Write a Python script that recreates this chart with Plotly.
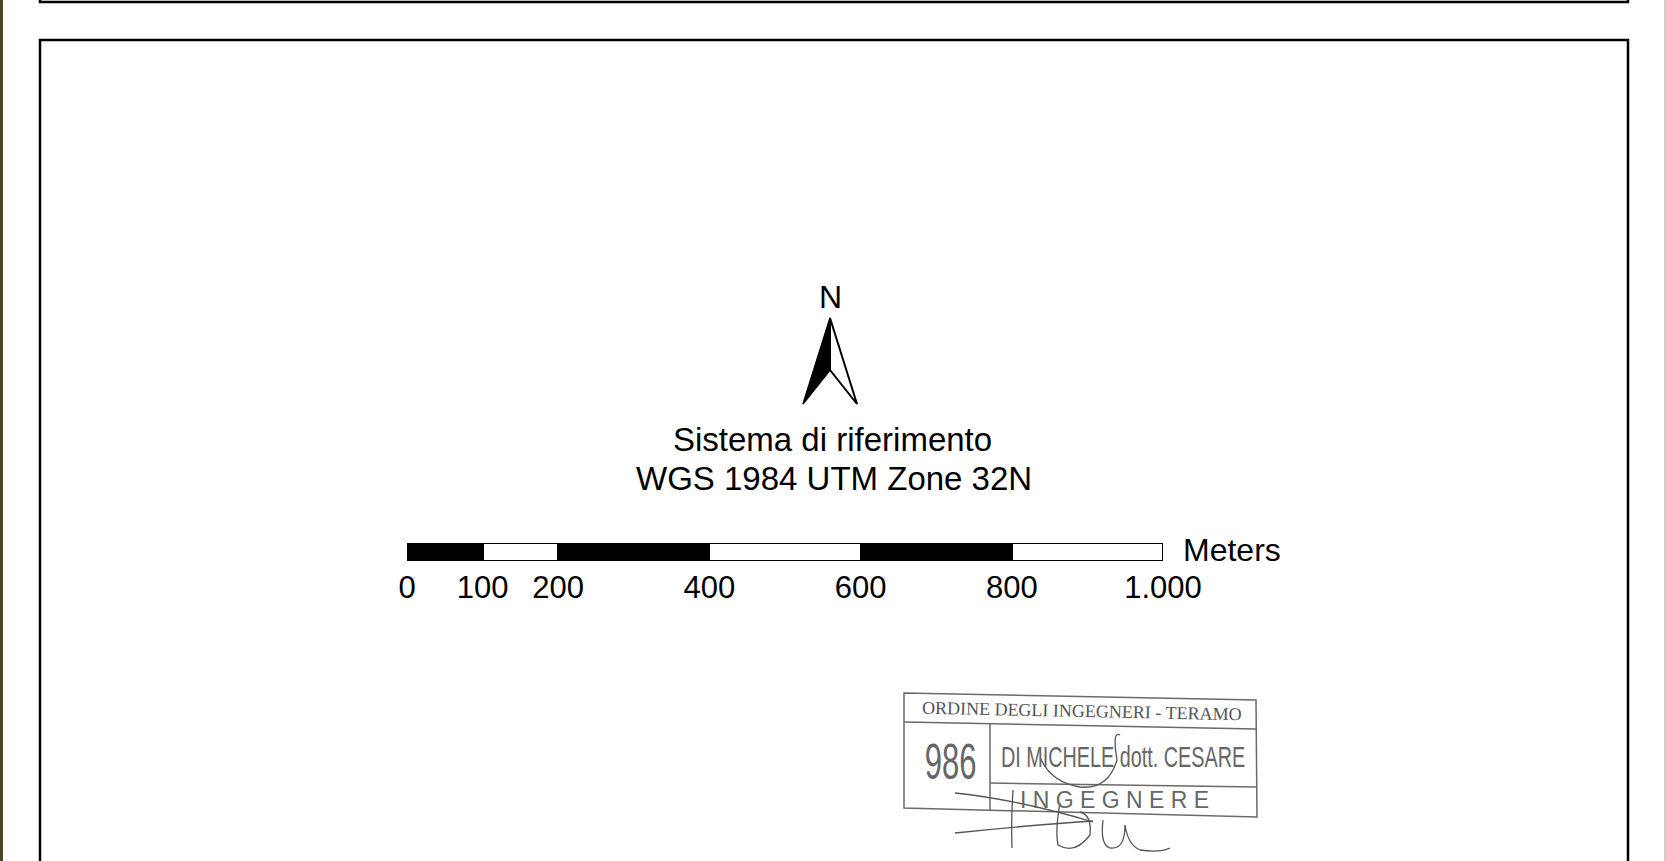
import plotly.graph_objects as go

# ---- data ----
scale_ticks = [0, 100, 200, 400, 600, 800, 1000]
scale_labels = ["0", "100", "200", "400", "600", "800", "1.000"]
seg_start = [0, 100, 200, 400, 600, 800]
seg_length = [100, 100, 200, 200, 200, 200]
seg_colors = ["black", "white", "black", "white", "black", "white"]
scale_unit = "Meters"
north_label = "N"
crs_lines = ["Sistema di riferimento", "WGS 1984 UTM Zone 32N"]
stamp_header = "ORDINE DEGLI INGEGNERI - TERAMO"
stamp_number = "986"
stamp_name = "DI MICHELE dott. CESARE"
stamp_title = "I N G E G N E R E"

W, H = 1666, 861
FONT = "Liberation Sans, Arial, sans-serif"

fig = go.Figure()

# scale bar as horizontal bars on its own axis
fig.add_trace(go.Bar(
    x=seg_length, base=seg_start, y=[0] * len(seg_start), orientation="h",
    marker=dict(color=seg_colors, line=dict(color="black", width=2)),
    width=1, xaxis="x2", yaxis="y2", hoverinfo="skip", showlegend=False,
))

def py(p):
    return 1 - p / H

fig.update_layout(
    autosize=True,
    margin=dict(l=0, r=0, t=0, b=0, autoexpand=False),
    paper_bgcolor="white", plot_bgcolor="rgba(0,0,0,0)",
    xaxis=dict(range=[0, W], visible=False, domain=[0, 1], fixedrange=True),
    yaxis=dict(range=[H, 0], visible=False, domain=[0, 1], fixedrange=True),
    xaxis2=dict(domain=[407 / W, 1163 / W], range=[0, 1000], anchor="y2",
                tickvals=scale_ticks, ticktext=scale_labels, showgrid=False,
                zeroline=False, showline=False, ticks="", ticklabelstandoff=5,
                fixedrange=True,
                tickfont=dict(family=FONT, size=31, color="black")),
    yaxis2=dict(domain=[py(561), py(543)], range=[-0.5, 0.5], visible=False,
                anchor="x2", fixedrange=True),
    bargap=0,
    showlegend=False,
)

shapes = []
# frames
shapes.append(dict(type="rect", xref="x", yref="y", x0=40, x1=1628, y0=-60, y1=2,
                   line=dict(color="black", width=2.5)))
shapes.append(dict(type="rect", xref="x", yref="y", x0=40, x1=1628, y0=40, y1=900,
                   line=dict(color="black", width=2.5)))
shapes.append(dict(type="rect", xref="x", yref="y", x0=0, x1=3, y0=0, y1=H,
                   fillcolor="#4a4a1e", line=dict(width=0)))
shapes.append(dict(type="line", xref="x", yref="y", x0=1665, x1=1665, y0=0, y1=H,
                   line=dict(color="#9a9a9a", width=1)))

# north arrow
shapes.append(dict(type="path", xref="x", yref="y",
                   path="M 830 318 L 803 404 L 830 370 Z",
                   fillcolor="black", line=dict(color="black", width=1.5)))
shapes.append(dict(type="path", xref="x", yref="y",
                   path="M 830 318 L 857 404 L 830 370 Z",
                   fillcolor="white", line=dict(color="black", width=2)))

# stamp (slightly tilted scan)
sc = "#6a6a6a"
for p in [
    "M 904 693 L 1256 700 L 1257 817 L 904 808 Z",
    "M 904 722 L 1256 729",
    "M 990 724 L 990 810",
    "M 990 783 L 1256 787",
]:
    shapes.append(dict(type="path", xref="x", yref="y", path=p,
                       line=dict(color=sc, width=1.5)))
# signature strokes
sig = "#555555"
for p in [
    "M 955 793 Q 1020 800 1093 822",
    "M 955 833 Q 1030 825 1093 821",
    "M 1013 790 Q 1011 820 1012 848",
    "M 1120 735 Q 1112 730 1117 760 Q 1108 790 1080 787 Q 1050 782 1040 757",
    "M 1060 803 Q 1055 830 1058 845 Q 1075 855 1090 835 Q 1092 815 1080 812",
    "M 1103 820 Q 1100 845 1110 848 Q 1125 850 1125 825 Q 1128 845 1140 850 Q 1160 853 1170 848",
]:
    shapes.append(dict(type="path", xref="x", yref="y", path=p,
                       line=dict(color=sig, width=1.3)))

fig.update_layout(shapes=shapes)

ann = []
ann.append(dict(x=830, y=297, xref="x", yref="y", text=north_label, showarrow=False,
                font=dict(family=FONT, size=32, color="black")))
ann.append(dict(x=832, y=439, xref="x", yref="y", text=crs_lines[0], showarrow=False,
                font=dict(family=FONT, size=33, color="black")))
ann.append(dict(x=834, y=478, xref="x", yref="y", text=crs_lines[1], showarrow=False,
                font=dict(family=FONT, size=33, color="black")))
ann.append(dict(x=1000, y=0, xref="x2", yref="y2", text=scale_unit, showarrow=False,
                xanchor="left", xshift=18, yshift=2,
                font=dict(family=FONT, size=32, color="black")))
# stamp texts
ann.append(dict(x=1082, y=711, xref="x", yref="y", text=stamp_header, showarrow=False,
                textangle=1.2,
                font=dict(family="Liberation Serif, Times New Roman, serif", size=18, color="#555")))
ann.append(dict(x=950, y=762, xref="x", yref="y", text=stamp_number, showarrow=False,
                font=dict(family="Liberation Sans, Arial", size=50, color="#666")))
ann.append(dict(x=1123, y=756, xref="x", yref="y", text=stamp_name, showarrow=False,
                font=dict(family="Liberation Sans, Arial", size=30, color="#666")))
ann.append(dict(x=1114, y=800, xref="x", yref="y", text=stamp_title, showarrow=False,
                font=dict(family=FONT, size=23, color="#666")))
fig.update_layout(annotations=ann)

post = """
document.body.style.margin='0';
document.body.style.overflow='hidden';
document.documentElement.style.overflow='hidden';
var gd=document.getElementById('{plot_id}');
var cond={'986':0.62,'DI MICHELE dott. CESARE':0.66};
gd.querySelectorAll('text.annotation-text').forEach(function(t){
  var k=cond[t.textContent];
  if(k){
    var bb=t.getBBox(); var cx=bb.x+bb.width/2;
    var ex=t.getAttribute('transform')||'';
    t.setAttribute('transform', ex+' translate('+cx+',0) scale('+k+',1) translate('+(-cx)+',0)');
  }
});
"""

fig.write_html("out.html", default_width="100vw", default_height="100vh",
               config={"displayModeBar": False, "responsive": True},
               post_script=post)
